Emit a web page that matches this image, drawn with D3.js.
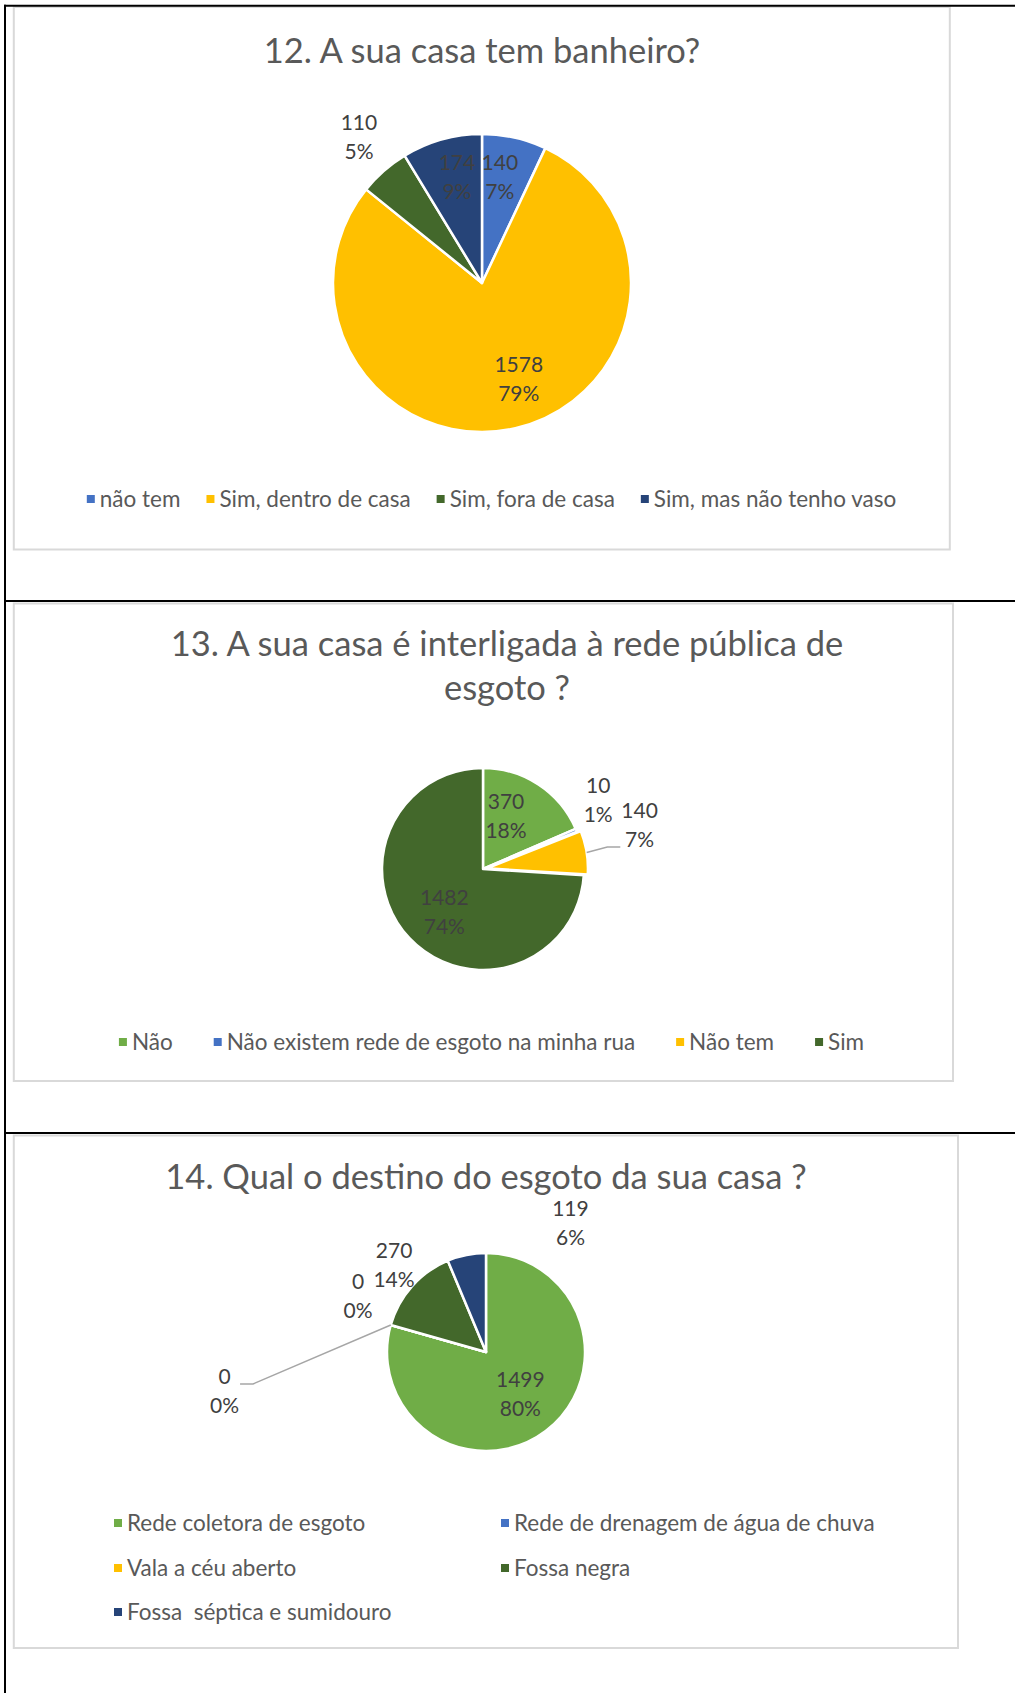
<!DOCTYPE html>
<html>
<head>
<meta charset="utf-8">
<script src="https://cdn.jsdelivr.net/npm/d3@7"></script>
<style>
  body { margin: 0; background: #fff; }
  text { font-family: Lato, "Open Sans", sans-serif; }
</style>
</head>
<body>
<svg id="page" width="1015" height="1693"></svg>
<script>
// 12. A sua casa tem banheiro?
var q12Categories = ["não tem", "Sim, dentro de casa", "Sim, fora de casa", "Sim, mas não tenho vaso"];
var q12Values = [140, 1578, 110, 174];
var q12Percents = ["7%", "79%", "5%", "9%"];

// 13. A sua casa é interligada à rede pública de esgoto ?
var q13Categories = ["Não", "Não existem rede de esgoto na minha rua", "Não tem", "Sim"];
var q13Values = [370, 10, 140, 1482];
var q13Percents = ["18%", "1%", "7%", "74%"];

// 14. Qual o destino do esgoto da sua casa ?
var q14Categories = ["Rede coletora de esgoto", "Rede de drenagem de água de chuva", "Vala a céu aberto", "Fossa negra", "Fossa  séptica e sumidouro"];
var q14Values = [1499, 0, 0, 270, 119];
var q14Percents = ["80%", "0%", "0%", "14%", "6%"];

var svg = d3.select("#page");

function polar(angle, radius) {
    return [Math.sin(angle) * radius, -Math.cos(angle) * radius];
}

function drawChart(cfg) {
    var g = svg.append("g");

    g.append("rect")
        .attr("x", cfg.box[0]).attr("y", cfg.box[1])
        .attr("width", cfg.box[2] - cfg.box[0])
        .attr("height", cfg.box[3] - cfg.box[1])
        .attr("fill", "#fff")
        .attr("stroke", "#d9d9d9")
        .attr("stroke-width", 2);

    var title = g.append("text")
        .attr("text-anchor", "middle")
        .attr("font-size", 34.5)
        .attr("fill", "#595959");
    cfg.title.forEach(function (t, i) {
        title.append("tspan").attr("x", cfg.titleX).attr("y", cfg.titleY + i * 44).text(t);
    });

    var color = d3.scaleOrdinal().domain(cfg.categories).range(cfg.colors);
    var rows = cfg.categories.map(function (c, i) {
        return { name: c, value: cfg.values[i], pct: cfg.percents[i] };
    });
    var arcs = d3.pie().sort(null).value(function (d) { return d.value; })(rows);
    var arc = d3.arc().innerRadius(0).outerRadius(cfg.r);

    var pg = g.append("g").attr("transform", "translate(" + cfg.cx + "," + cfg.cy + ")");

    function shift(d, i) {
        return polar((d.startAngle + d.endAngle) / 2, (cfg.explode && cfg.explode[i]) || 0);
    }

    pg.selectAll("path.slice")
        .data(arcs)
        .enter().append("path")
        .attr("class", "slice")
        .attr("d", arc)
        .attr("transform", function (d, i) { return "translate(" + shift(d, i) + ")"; })
        .attr("fill", function (d) { return color(d.data.name); })
        .attr("stroke", "#fff")
        .attr("stroke-width", 2.5)
        .attr("stroke-linejoin", "round");

    // data labels: value and percentage, placed around the slice middle
    arcs.forEach(function (d, i) {
        var pl = cfg.place[i];
        var mid = (d.startAngle + d.endAngle) / 2;
        var p = polar(mid + pl.da * Math.PI / 180, pl.k * cfg.r);
        var t = pg.append("text")
            .attr("text-anchor", "middle")
            .attr("font-size", 21)
            .attr("fill", "#404040");
        t.append("tspan").attr("x", p[0]).attr("y", p[1] - 7).text(d.data.value);
        t.append("tspan").attr("x", p[0]).attr("y", p[1] + 22).text(d.data.pct);

        if (pl.leader !== undefined) {
            var bb = t.node().getBBox();
            var s = shift(d, i);
            var o = polar(mid, cfg.r);
            var start = [o[0] + s[0], o[1] + s[1]];
            var end, elbow;
            if (p[0] < start[0]) {
                end = [bb.x + bb.width + 1, p[1] + pl.leader];
                elbow = [end[0] + 13, end[1]];
            } else {
                end = [bb.x - 1, p[1] + pl.leader];
                elbow = [end[0] - 13, end[1]];
            }
            pg.insert("polyline", "text")
                .attr("points", [start, elbow, end].join(" "))
                .attr("fill", "none")
                .attr("stroke", "#a6a6a6")
                .attr("stroke-width", 1.5);
        }
    });

    // legend
    var lg = g.append("g").attr("font-size", 22.5).attr("fill", "#595959");
    var items = lg.selectAll("g.item")
        .data(cfg.categories)
        .enter().append("g")
        .attr("class", "item");
    items.append("rect")
        .attr("width", 8).attr("height", 8)
        .attr("y", -4)
        .attr("fill", function (d) { return color(d); });
    items.append("text")
        .attr("x", 13)
        .attr("dy", "0.35em")
        .style("white-space", "pre")
        .text(function (d) { return d; });

    if (cfg.legend.cols) {
        items.attr("transform", function (d, i) {
            var c = i % cfg.legend.cols.length, r = Math.floor(i / cfg.legend.cols.length);
            return "translate(" + cfg.legend.cols[c] + "," + cfg.legend.rows[r] + ")";
        });
    } else {
        var widths = [];
        items.select("text").each(function () { widths.push(13 + this.getComputedTextLength()); });
        var total = d3.sum(widths) + cfg.legend.gap * (widths.length - 1);
        var x = cfg.legend.cx - total / 2;
        items.attr("transform", function (d, i) {
            var xi = x;
            x += widths[i] + cfg.legend.gap;
            return "translate(" + xi + "," + cfg.legend.cy + ")";
        });
    }
}

drawChart({
    categories: q12Categories, values: q12Values, percents: q12Percents,
    colors: ["#4472c4", "#ffc000", "#43682b", "#264478"],
    box: [13.8, 7, 949.8, 549.5],
    title: ["12. A sua casa tem banheiro?"], titleX: 482, titleY: 63,
    cx: 482, cy: 283, r: 149,
    place: [{ da: -3, k: 0.72 }, { da: -8, k: 0.69 }, { da: 1, k: 1.28 }, { da: 2.3, k: 0.73 }],
    legend: { cx: 491.5, cy: 499, gap: 26 }
});

drawChart({
    categories: q13Categories, values: q13Values, percents: q13Percents,
    colors: ["#70ad47", "#4472c4", "#ffc000", "#43682b"],
    box: [13.8, 603.5, 953, 1081],
    title: ["13. A sua casa é interligada à rede pública de", "esgoto ?"], titleX: 507, titleY: 656,
    cx: 483, cy: 869, r: 101,
    explode: [0, 0, 4, 0],
    place: [{ da: -9.7, k: 0.57 }, { da: -8.4, k: 1.33 }, { da: -6.6, k: 1.61, leader: 22 }, { da: -4.5, k: 0.57 }],
    legend: { cx: 491.5, cy: 1042, gap: 41 }
});

drawChart({
    categories: q14Categories, values: q14Values, percents: q14Percents,
    colors: ["#70ad47", "#4472c4", "#ffc000", "#43682b", "#264478"],
    box: [13.8, 1135.5, 958, 1648],
    title: ["14. Qual o destino do esgoto da sua casa ?"], titleX: 486, titleY: 1189,
    cx: 486, cy: 1352, r: 99,
    place: [{ da: -2, k: 0.55 }, { da: -24.3, k: 2.67, leader: -7 }, { da: 7.8, k: 1.41 }, { da: 1.9, k: 1.28 }, { da: 44.5, k: 1.56 }],
    legend: { cols: [114, 501], rows: [1523, 1568, 1612] }
});

// the black table rules the charts sit in
var rules = svg.append("g").attr("stroke", "#000").attr("stroke-width", 2);
rules.append("line").attr("x1", 4).attr("x2", 1015).attr("y1", 5.7).attr("y2", 5.7);
rules.append("line").attr("x1", 5).attr("x2", 5).attr("y1", 4.7).attr("y2", 1693);
rules.append("line").attr("x1", 4).attr("x2", 1015).attr("y1", 601).attr("y2", 601);
rules.append("line").attr("x1", 4).attr("x2", 1015).attr("y1", 1133).attr("y2", 1133);
</script>
</body>
</html>
